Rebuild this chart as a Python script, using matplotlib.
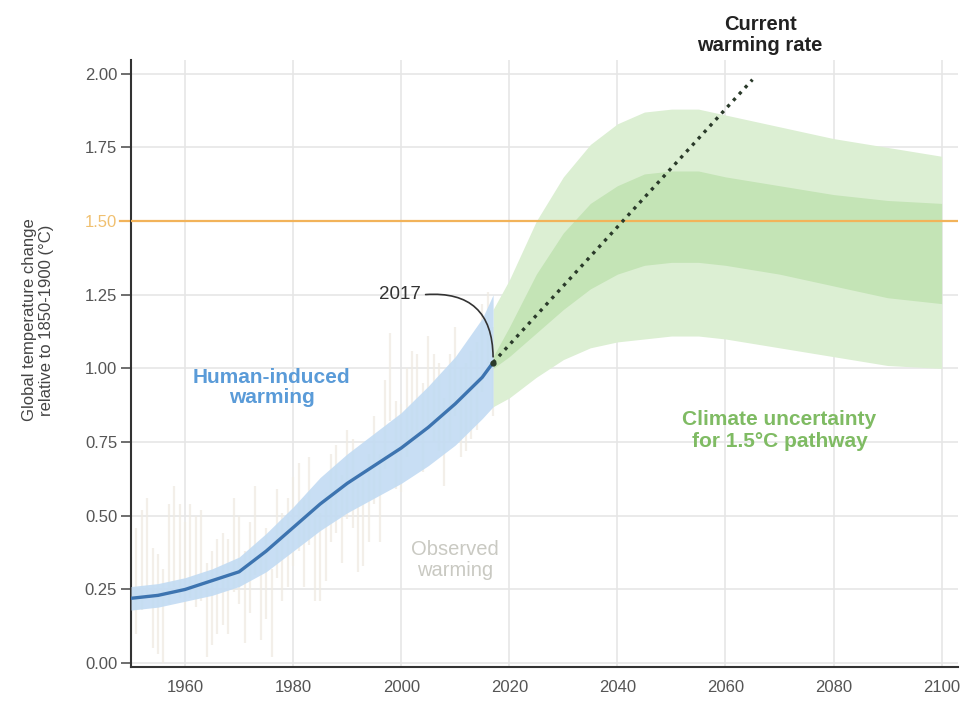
import matplotlib
matplotlib.use("Agg")
import matplotlib.pyplot as plt
from matplotlib.patches import FancyArrowPatch

plt.rcParams['font.family'] = ['Liberation Sans', 'DejaVu Sans']

# ---------------- data ----------------
hist_years = [1950, 1955, 1960, 1965, 1970, 1975, 1980, 1985, 1990, 1995, 2000, 2005, 2010, 2015, 2017]
hist_mid   = [0.22, 0.23, 0.25, 0.28, 0.31, 0.38, 0.46, 0.54, 0.61, 0.67, 0.73, 0.80, 0.88, 0.97, 1.02]
hist_low   = [0.18, 0.19, 0.21, 0.23, 0.26, 0.31, 0.38, 0.45, 0.51, 0.56, 0.61, 0.67, 0.74, 0.83, 0.87]
hist_high  = [0.26, 0.27, 0.29, 0.32, 0.36, 0.44, 0.53, 0.63, 0.71, 0.78, 0.85, 0.94, 1.04, 1.17, 1.25]

obs_years = list(range(1950, 2018))
obs_low = [0.02, 0.10, 0.18, 0.22, 0.05, 0.03, 0.00, 0.20, 0.26, 0.22, 0.18, 0.22, 0.19, 0.21, 0.02, 0.06,
           0.10, 0.13, 0.10, 0.24, 0.20, 0.07, 0.17, 0.30, 0.08, 0.15, 0.02, 0.29, 0.21, 0.26, 0.33, 0.38,
           0.26, 0.40, 0.21, 0.21, 0.28, 0.41, 0.44, 0.34, 0.49, 0.46, 0.31, 0.33, 0.41, 0.54, 0.41, 0.66,
           0.82, 0.59, 0.58, 0.70, 0.76, 0.75, 0.65, 0.81, 0.75, 0.72, 0.60, 0.75, 0.84, 0.70, 0.72, 0.76,
           0.79, 0.92, 0.96, 0.84]
obs_high = [0.36, 0.46, 0.52, 0.56, 0.39, 0.37, 0.32, 0.54, 0.60, 0.54, 0.48, 0.54, 0.50, 0.52, 0.34, 0.38,
            0.42, 0.44, 0.42, 0.56, 0.50, 0.38, 0.48, 0.60, 0.38, 0.46, 0.32, 0.59, 0.51, 0.56, 0.63, 0.68,
            0.56, 0.70, 0.51, 0.51, 0.58, 0.71, 0.74, 0.64, 0.79, 0.76, 0.61, 0.63, 0.71, 0.84, 0.71, 0.96,
            1.12, 0.89, 0.88, 1.00, 1.06, 1.05, 0.95, 1.11, 1.05, 1.02, 0.90, 1.05, 1.14, 1.00, 1.02, 1.06,
            1.09, 1.22, 1.26, 1.14]

proj_years = [2017, 2020, 2025, 2030, 2035, 2040, 2045, 2050, 2055, 2060, 2070, 2080, 2090, 2100]
outer_low  = [0.87, 0.90, 0.97, 1.03, 1.07, 1.09, 1.10, 1.11, 1.11, 1.10, 1.07, 1.04, 1.01, 1.00]
outer_high = [1.20, 1.30, 1.50, 1.65, 1.76, 1.83, 1.87, 1.88, 1.88, 1.86, 1.82, 1.78, 1.75, 1.72]
inner_low  = [1.00, 1.04, 1.12, 1.20, 1.27, 1.32, 1.35, 1.36, 1.36, 1.35, 1.32, 1.28, 1.24, 1.22]
inner_high = [1.04, 1.14, 1.32, 1.46, 1.56, 1.62, 1.66, 1.67, 1.67, 1.65, 1.62, 1.59, 1.57, 1.56]

rate_years = [2017, 2065]
rate_vals  = [1.02, 1.98]

target = 1.5
xticks = [1960, 1980, 2000, 2020, 2040, 2060, 2080, 2100]
yticks = [0.0, 0.25, 0.5, 0.75, 1.0, 1.25, 1.5, 1.75, 2.0]

# ---------------- figure ----------------
fig = plt.figure(figsize=(9.67, 7.03), dpi=100)
ax = fig.add_axes([0.1355, 0.051, 0.855, 0.864])
ax.set_xlim(1950, 2103)
ax.set_ylim(-0.0136, 2.0475)

ax.set_xticks(xticks)
ax.set_yticks(yticks)
ax.set_yticklabels([f"{v:.2f}" for v in yticks])
ax.grid(True, color='#e6e6e6', linewidth=1.2, zorder=0)
ax.set_axisbelow(True)
for s in ['top', 'right']:
    ax.spines[s].set_visible(False)
ax.spines['left'].set_linewidth(1.5)
ax.spines['bottom'].set_linewidth(1.5)
ax.spines['left'].set_color('#333333')
ax.spines['bottom'].set_color('#333333')
ax.tick_params(axis='y', length=7, width=1.2, colors='#555555', labelsize=12, pad=3)
ax.tick_params(axis='x', length=0, colors='#555555', labelsize=12, pad=9)
for lbl in ax.get_yticklabels():
    if lbl.get_text() == "1.50":
        lbl.set_color('#f0c070')

# observed warming (faint)
ax.vlines(obs_years, obs_low, obs_high, color='#efeae2', linewidth=1.6, alpha=0.75, zorder=1)

# projection bands
ax.fill_between(proj_years, outer_low, outer_high, color='#dcefd3', linewidth=0, zorder=2)
ax.fill_between(proj_years, inner_low, inner_high, color='#c4e4b6', linewidth=0, zorder=2)

# human-induced band + line
ax.fill_between(hist_years, hist_low, hist_high, color='#c2dbf3', alpha=0.9, linewidth=0, zorder=3)
ax.plot(hist_years, hist_mid, color='#3d74b0', linewidth=2.4, zorder=4, solid_capstyle='round')

# 1.5 line
ax.axhline(target, color='#f2b35a', linewidth=1.6, zorder=5)
ax.plot([1948, 1950], [target, target], color='#f2b35a', linewidth=1.6, clip_on=False)

# current warming rate
ax.plot(rate_years, rate_vals, color='#2a3a2a', linestyle=(0, (1, 1.6)), linewidth=2.4,
        zorder=6, clip_on=False)
ax.plot([2017], [1.02], 'o', color='#2a3a2a', markersize=3.5, zorder=7)

# 2017 annotation
arr = FancyArrowPatch((2004.0, 1.25), (2017, 1.03), connectionstyle="arc3,rad=-0.55",
                      arrowstyle='-', color='#333333', linewidth=1.2, zorder=7)
ax.add_patch(arr)
ax.text(2003.6, 1.25, "2017", ha='right', va='center', fontsize=13.5, color='#333333')

# labels
ax.text(1976, 0.935, "Human-induced\nwarming", ha='center', va='center', fontsize=15,
        fontweight='bold', color='#5a9bd8', linespacing=1.05)
ax.text(2010, 0.35, "Observed\nwarming", ha='center', va='center', fontsize=14.5,
        color='#c9c9c2', linespacing=1.1)
ax.text(2070, 0.79, "Climate uncertainty\nfor 1.5°C pathway", ha='center', va='center',
        fontsize=15, fontweight='bold', color='#7fbb63', linespacing=1.2)
fig.text(760/967, 1 - 35/703, "Current\nwarming rate", ha='center', va='center',
         fontsize=14.5, fontweight='bold', color='#222222', linespacing=1.15)

fig.text(0.039, 0.545, "Global temperature change\nrelative to 1850-1900 (°C)", rotation=90,
         ha='center', va='center', fontsize=12, color='#444444', linespacing=1.2)

fig.savefig("out.png", dpi=100)
